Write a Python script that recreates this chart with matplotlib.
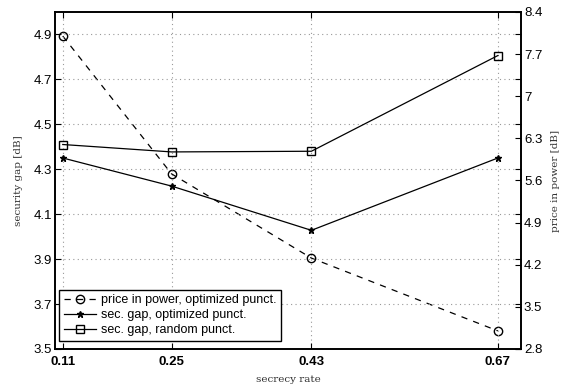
import matplotlib
matplotlib.use("Agg")
import matplotlib.pyplot as plt

rates = [0.11, 0.25, 0.43, 0.67]
price_power = [8.0, 5.71, 4.31, 3.10]
gap_opt = [4.35, 4.225, 4.028, 4.35]
gap_rand = [4.41, 4.377, 4.38, 4.806]

left_ticks = [3.5, 3.7, 3.9, 4.1, 4.3, 4.5, 4.7, 4.9]
right_ticks = [2.8, 3.5, 4.2, 4.9, 5.6, 6.3, 7.0, 7.7, 8.4]
right_labels = ["2.8", "3.5", "4.2", "4.9", "5.6", "6.3", "7", "7.7", "8.4"]

fig = plt.figure(figsize=(5.61, 3.86), dpi=100)
ax = fig.add_axes([0.098, 0.096, 0.831, 0.873])
ax2 = ax.twinx()

tickfont = dict(family="Liberation Sans", size=9.5, weight="bold")

l2, = ax.plot(rates, gap_opt, color="black", lw=0.9, marker="*", ms=4.5,
              mfc="black", mec="black")
l3, = ax.plot(rates, gap_rand, color="black", lw=0.9, marker="s", ms=6,
              mfc="none", mec="black")
l1, = ax2.plot(rates, price_power, color="black", lw=0.9, ls=(0, (5, 5)),
               marker="o", ms=6, mfc="none", mec="black")

ax.set_xlim(0.1, 0.70)
ax.set_ylim(3.5, 5.0)
ax2.set_ylim(2.8, 8.4)
ax.set_xticks(rates)
ax.set_xticklabels(["0.11", "0.25", "0.43", "0.67"], fontdict=tickfont)
ax.set_yticks(left_ticks)
ax.set_yticklabels(["%.1f" % v for v in left_ticks], family="Liberation Sans", size=9.5)
ax2.set_yticks(right_ticks)
ax2.set_yticklabels(right_labels, family="Liberation Sans", size=9.5)

ax.grid(True, color="#999999", ls=(0, (1, 3)), lw=0.8)
ax.tick_params(direction="in", top=True, right=True, length=4, pad=2)
ax.tick_params(axis="x", pad=5)
ax2.tick_params(direction="in", length=4, pad=2)

for a in (ax, ax2):
    for s in a.spines.values():
        s.set_linewidth(1.2)

ax.set_xlabel("secrecy rate", family="DejaVu Serif", size=7.5, color="#333333", labelpad=5)
ax.set_ylabel("security gap [dB]", family="DejaVu Serif", size=7.5, color="#333333", labelpad=8)
ax2.set_ylabel("price in power [dB]", family="DejaVu Serif", size=7.5, color="#333333", labelpad=6)

leg = ax.legend([l1, l2, l3],
                ["price in power, optimized punct.",
                 "sec. gap, optimized punct.",
                 "sec. gap, random punct."],
                loc="lower left", bbox_to_anchor=(0.009, 0.024),
                prop=dict(family="Liberation Sans", size=9.0),
                fancybox=False, framealpha=1, edgecolor="black",
                borderaxespad=0.0, handlelength=2.6, borderpad=0.35,
                labelspacing=0.25, handletextpad=0.4)
leg.get_frame().set_linewidth(1.0)
ax.set_zorder(ax2.get_zorder() + 1)
ax.patch.set_visible(False)

fig.savefig("out.png", dpi=100)
